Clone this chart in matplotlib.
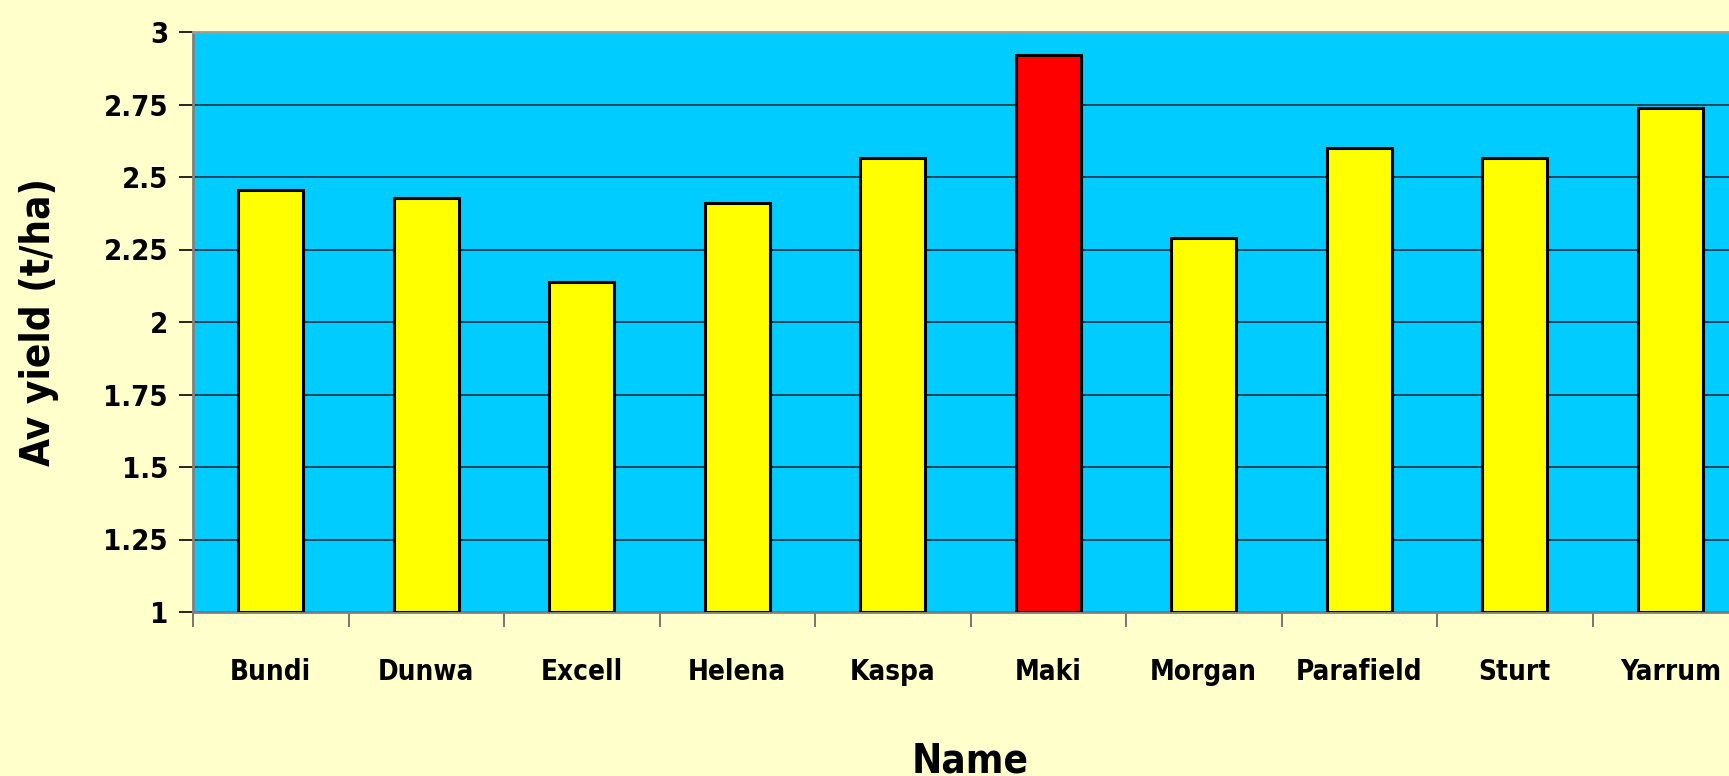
import numpy as np
import matplotlib.pyplot as plt
from matplotlib.ticker import FixedLocator

names = ["Bundi", "Dunwa", "Excell", "Helena", "Kaspa", "Maki",
         "Morgan", "Parafield", "Sturt", "Yarrum"]
yields = [2.456, 2.426, 2.137, 2.41, 2.566, 2.92, 2.29, 2.60, 2.565, 2.737]
colors = ["#FFFF00"] * 10
colors[5] = "#FF0000"
yticks = [1, 1.25, 1.5, 1.75, 2, 2.25, 2.5, 2.75, 3]
ytick_labels = ["1", "1.25", "1.5", "1.75", "2", "2.25", "2.5", "2.75", "3"]

font = dict(family="DejaVu Sans", fontstretch="condensed", fontweight="bold")

fig = plt.figure(figsize=(17.29, 7.76), dpi=100)
fig.patch.set_facecolor("#FFFFCC")
ax = fig.add_axes([193/1729, 1 - 612/776, 1555/1729, 580/776])
ax.set_facecolor("#00CCFF")

x = np.arange(len(names))
ax.bar(x, [v - 1 for v in yields], bottom=1, width=0.42, color=colors,
       edgecolor="black", linewidth=2.2, zorder=3)

ax.set_xlim(-0.5, len(names) - 0.5)
ax.set_ylim(1, 3)
ax.set_yticks(yticks)
ax.set_yticklabels(ytick_labels, fontsize=21, **font)
ax.yaxis.grid(True, color="#003040", linewidth=1.2, zorder=1)
ax.tick_params(axis="y", length=10, width=1.2, color="black", pad=8)

ax.set_xticks(x)
ax.set_xticklabels(names, fontsize=20, **font)
ax.xaxis.set_minor_locator(FixedLocator(np.arange(-0.5, len(names), 1)))
ax.tick_params(axis="x", which="major", length=0, pad=33)
ax.tick_params(axis="x", which="minor", length=11, width=1.2, color="#606060")

for side in ["left", "bottom", "top"]:
    ax.spines[side].set_color("#808080")
    ax.spines[side].set_linewidth(2)
ax.spines["top"].set_color("#A09C88")
ax.spines["right"].set_visible(False)

ax.set_ylabel("Av yield (t/ha)", fontsize=29, labelpad=32, **font)
ax.set_xlabel("Name", fontsize=29, labelpad=40, **font)

plt.savefig("out.png", facecolor=fig.get_facecolor())
